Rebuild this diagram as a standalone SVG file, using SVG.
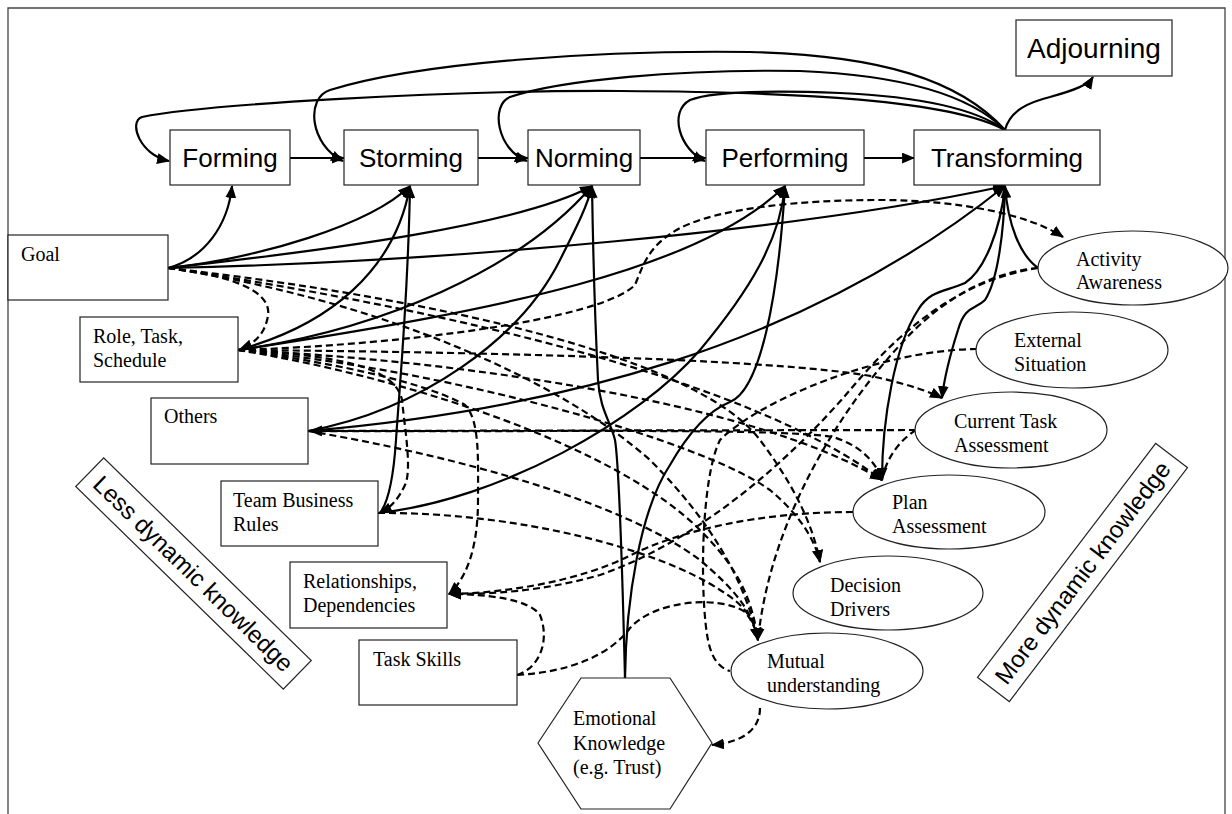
<svg xmlns="http://www.w3.org/2000/svg" width="1232" height="814" viewBox="0 0 1232 814">
<style>
.box{fill:#fff;stroke:#222;stroke-width:1.2}
.stage{font-family:"Liberation Sans",Arial,sans-serif;font-size:26px;fill:#000}
.tm{font-family:"Liberation Serif","Times New Roman",serif;font-size:20px;fill:#000}
.rot{font-family:"Liberation Sans",Arial,sans-serif;font-size:24px;fill:#000}
.s{fill:none;stroke:#000;stroke-width:2.2}
.d{fill:none;stroke:#000;stroke-width:2.2;stroke-dasharray:7 4}
.a{marker-end:url(#ah)}
</style>
<defs>
<marker id="ah" viewBox="0 0 12 10" refX="11" refY="5" markerWidth="13" markerHeight="11" markerUnits="userSpaceOnUse" orient="auto">
<path d="M0,0 L12,5 L0,10 z" fill="#000"/>
</marker>
</defs>
<rect width="1232" height="814" fill="#fff"/>
<path d="M8,814 V8 H1225 V814" fill="none" stroke="#444" stroke-width="1.3"/>

<g id="connectors">
<!-- stage sequence -->
<path class="s a" d="M290,158 L344,158"/>
<path class="s a" d="M478,158 L528,158"/>
<path class="s a" d="M640,158 L706,158"/>
<path class="s a" d="M864,158 L914,158"/>
<!-- loops from Transforming -->
<path class="s a" d="M1005,130 C1010,110 1030,102 1050,97 C1075,90 1088,85 1093,77"/>
<path class="s a" d="M1005,130 C950,100 800,92 620,91 S200,105 142,117 C128,122 140,155 169,161"/>
<path class="s a" d="M1005,130 C960,80 880,55 750,52 C600,50 420,62 330,90 C305,98 310,145 343,161"/>
<path class="s a" d="M1005,130 C970,95 900,75 800,71 C680,69 560,80 510,97 C490,105 497,150 527,161"/>
<path class="s a" d="M1005,130 C980,112 930,97 840,93 C760,90 710,92 690,100 C668,112 680,150 705,161"/>
<!-- solid knowledge to stage -->
<path class="s a" d="M168,268 C205,258 228,225 232,186"/>
<path class="s a" d="M168,268 C260,258 370,225 410,186"/>
<path class="s a" d="M238,350 C330,325 395,270 410,186"/>
<path class="s a" d="M380,513 C390,500 394,470 396,440 C400,380 408,300 410,186"/>
<path class="s a" d="M168,268 C330,250 520,225 592,186"/>
<path class="s a" d="M238,350 C380,330 520,270 592,186"/>
<path class="s a" d="M308,431 C420,410 520,340 560,260 C575,230 588,205 592,186"/>
<path class="s a" d="M625,678 C623,600 620,470 615,440 C610,420 600,410 598,380 C595,320 593,250 592,186"/>
<path class="s a" d="M238,350 C500,310 700,270 785,186"/>
<path class="s a" d="M378,513 C500,500 640,420 700,350 C750,290 780,240 785,186"/>
<path class="s a" d="M625,678 C626,600 640,510 670,465 C690,430 710,410 730,402 C760,390 778,300 785,186"/>
<path class="s a" d="M168,268 C450,262 800,230 1005,186"/>
<path class="s a" d="M308,431 C550,410 800,350 1005,186"/>
<path class="s a" d="M1038,268 C1020,255 1008,225 1005,186"/>
<path class="s a" d="M1005,187 C1004,230 998,280 985,300 C975,310 965,305 958,330 C950,355 944,380 942,398"/>
<path class="s a" d="M1005,187 C1000,230 985,270 965,283 C945,292 930,290 918,310 C895,345 882,420 882,480"/>
<!-- dashed -->
<path class="d a" d="M168,268 C235,276 272,292 268,316 C265,333 256,343 240,349"/>
<path class="d a" d="M168,268 C450,310 750,380 882,480"/>
<path class="d a" d="M168,268 C450,300 700,360 760,440 C790,480 812,520 820,562"/>
<path class="d a" d="M168,268 C380,300 560,380 650,460 C710,520 745,580 758,640"/>
<path class="d a" d="M238,350 C400,345 600,320 635,285 C645,260 650,245 680,228 C720,208 800,200 880,200 C960,200 1030,215 1063,237"/>
<path class="d a" d="M238,350 C330,355 395,365 402,400 C405,430 412,470 405,485 C398,500 390,508 380,513"/>
<path class="d a" d="M238,350 C350,365 430,385 465,405 C480,420 478,460 478,500 C478,540 470,575 449,594"/>
<path class="d a" d="M238,350 C500,352 800,360 880,378 C910,385 930,392 942,398"/>
<path class="d a" d="M238,350 C450,360 750,400 882,480"/>
<path class="d a" d="M238,350 C450,370 700,440 770,490 C800,515 815,540 820,562"/>
<path class="d a" d="M238,350 C420,380 620,450 700,530 C740,570 752,600 758,640"/>
<path class="d a" d="M916,430 L310,431"/>
<path class="d a" d="M308,431 C550,432 780,428 833,437 C860,445 876,462 882,480"/>
<path class="d a" d="M308,431 C450,455 620,500 700,560 C735,590 752,610 758,640"/>
<path class="d" d="M916,430 C900,440 886,458 882,480"/>
<path class="d a" d="M378,513 C520,512 660,550 720,590 C745,605 755,620 758,640"/>
<path class="d a" d="M853,512 C760,512 680,530 627,557 C580,580 510,593 449,594"/>
<path class="d a" d="M1038,268 C960,280 900,330 850,390 C790,460 700,540 600,575 C540,592 490,594 449,594"/>
<path class="d a" d="M1038,268 C990,272 940,300 900,345 C840,410 770,520 758,640"/>
<path class="d" d="M977,349 C880,350 760,400 720,440 C700,480 700,600 708,640 C712,660 720,668 730,671"/>
<path class="d a" d="M517,675 C540,668 550,640 540,615 C530,600 490,594 449,594"/>
<path class="d a" d="M517,675 C570,672 610,655 630,628 C655,600 720,595 745,612 C752,620 756,630 758,640"/>
<path class="d a" d="M760,708 C760,728 745,742 712,745"/>
</g>

<g id="forming"><rect class="box" x="170" y="130" width="120" height="55"/><text class="stage" x="230" y="167" text-anchor="middle">Forming</text></g>
<g id="storming"><rect class="box" x="344" y="130" width="134" height="55"/><text class="stage" x="411" y="167" text-anchor="middle">Storming</text></g>
<g id="norming"><rect class="box" x="528" y="130" width="112" height="55"/><text class="stage" x="584" y="167" text-anchor="middle">Norming</text></g>
<g id="performing"><rect class="box" x="706" y="130" width="158" height="55"/><text class="stage" x="785" y="167" text-anchor="middle">Performing</text></g>
<g id="transforming"><rect class="box" x="914" y="130" width="186" height="55"/><text class="stage" x="1007" y="167" text-anchor="middle">Transforming</text></g>
<g id="adjourning"><rect class="box" x="1016" y="20" width="156" height="56"/><text class="stage" x="1094" y="58" text-anchor="middle" style="font-size:28px">Adjourning</text></g>

<g id="goal"><rect class="box" x="8" y="235" width="160" height="65"/><text class="tm" x="21" y="261">Goal</text></g>
<g id="role"><rect class="box" x="80" y="317" width="158" height="65"/><text class="tm" x="93" y="343">Role, Task,</text><text class="tm" x="93" y="367">Schedule</text></g>
<g id="others"><rect class="box" x="151" y="398" width="157" height="66"/><text class="tm" x="164" y="423">Others</text></g>
<g id="team-business-rules"><rect class="box" x="221" y="481" width="157" height="65"/><text class="tm" x="233" y="507">Team Business</text><text class="tm" x="233" y="531">Rules</text></g>
<g id="relationships"><rect class="box" x="290" y="562" width="157" height="66"/><text class="tm" x="303" y="588">Relationships,</text><text class="tm" x="303" y="612">Dependencies</text></g>
<g id="task-skills"><rect class="box" x="359" y="640" width="158" height="65"/><text class="tm" x="373" y="666">Task Skills</text></g>
<g id="emotional"><polygon class="box" points="538,743 581,678 670,678 712,743 670,809 581,809"/><text class="tm" x="573" y="725">Emotional</text><text class="tm" x="573" y="750">Knowledge</text><text class="tm" x="573" y="774">(e.g. Trust)</text></g>

<g id="activity-awareness"><ellipse class="box" cx="1133" cy="268" rx="95" ry="37"/><text class="tm" x="1076" y="266">Activity</text><text class="tm" x="1076" y="289">Awareness</text></g>
<g id="external-situation"><ellipse class="box" cx="1072" cy="350" rx="96" ry="38"/><text class="tm" x="1014" y="347">External</text><text class="tm" x="1014" y="371">Situation</text></g>
<g id="current-task-assessment"><ellipse class="box" cx="1011" cy="430" rx="96" ry="38"/><text class="tm" x="954" y="428">Current Task</text><text class="tm" x="954" y="452">Assessment</text></g>
<g id="plan-assessment"><ellipse class="box" cx="949" cy="512" rx="96" ry="37"/><text class="tm" x="892" y="509">Plan</text><text class="tm" x="892" y="533">Assessment</text></g>
<g id="decision-drivers"><ellipse class="box" cx="888" cy="593" rx="95" ry="37"/><text class="tm" x="830" y="592">Decision</text><text class="tm" x="830" y="616">Drivers</text></g>
<g id="mutual-understanding"><ellipse class="box" cx="827" cy="671" rx="96" ry="38"/><text class="tm" x="767" y="668">Mutual</text><text class="tm" x="767" y="692">understanding</text></g>

<g id="less-dynamic" transform="translate(193.5,573.5) rotate(44.3)"><rect class="box" x="-145" y="-20" width="290" height="40"/><text class="rot" x="0" y="8.5" text-anchor="middle">Less dynamic knowledge</text></g>
<g id="more-dynamic" transform="translate(1082.5,572.5) rotate(-52.7)"><rect class="box" x="-147" y="-20" width="294" height="40"/><text class="rot" x="0" y="8.5" text-anchor="middle">More dynamic knowledge</text></g>
</svg>
